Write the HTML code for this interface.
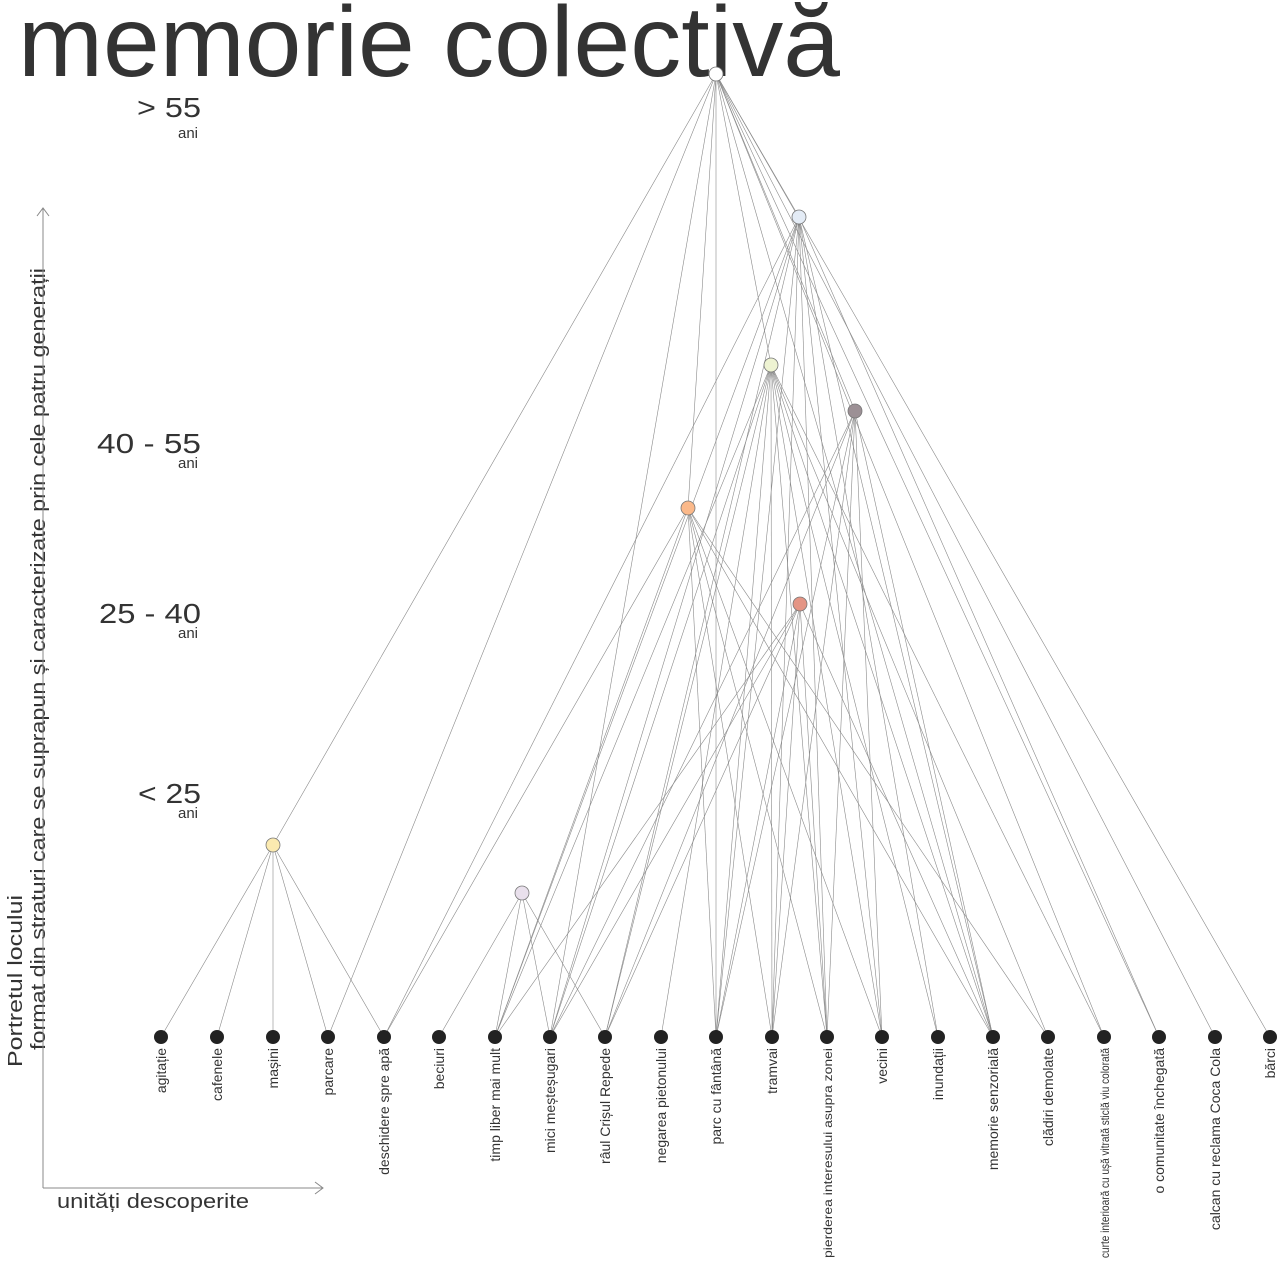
<!DOCTYPE html>
<html><head><meta charset="utf-8"><style>
html,body{margin:0;padding:0;background:#fff;}
svg{display:block;font-family:"Liberation Sans",sans-serif;}
</style></head><body>
<svg width="1280" height="1263" viewBox="0 0 1280 1263" xmlns="http://www.w3.org/2000/svg">
<text x="18" y="76" font-size="100" fill="#333" textLength="822" lengthAdjust="spacingAndGlyphs">memorie colectivă</text>
<g fill="#333">
<text x="137" y="117" font-size="28" textLength="64" lengthAdjust="spacingAndGlyphs">&gt; 55</text>
<text x="178" y="138" font-size="15">ani</text>
<text x="97" y="453" font-size="28" textLength="104" lengthAdjust="spacingAndGlyphs">40 - 55</text>
<text x="178" y="468" font-size="15">ani</text>
<text x="99" y="623" font-size="28" textLength="102" lengthAdjust="spacingAndGlyphs">25 - 40</text>
<text x="178" y="638" font-size="15">ani</text>
<text x="138" y="803" font-size="28" textLength="63" lengthAdjust="spacingAndGlyphs">&lt; 25</text>
<text x="178" y="818" font-size="15">ani</text>
<text transform="translate(22,1067) rotate(-90)" font-size="20" textLength="172" lengthAdjust="spacingAndGlyphs">Portretul locului</text>
<text transform="translate(45,1050) rotate(-90)" font-size="20" textLength="782" lengthAdjust="spacingAndGlyphs">format din straturi care se suprapun și caracterizate prin cele patru generații</text>
<text x="57" y="1208" font-size="20" textLength="192" lengthAdjust="spacingAndGlyphs">unități descoperite</text>
</g>
<g stroke="#888" stroke-width="1" fill="none">
<line x1="43" y1="1188" x2="43" y2="208"/><polyline points="37,216 43,208 49,216"/>
<line x1="43" y1="1188" x2="323" y2="1188"/><polyline points="315,1182 323,1188 315,1194"/>
</g>
<g id="edges" stroke="#8a8a8a" stroke-width="0.6"></g>
<g id="nodes"></g>
<g id="labels" fill="#333" font-size="14"></g>
<script>
var X=[161,217,273,328,384,439,495,550,605,661,716,772,827,882,938,993,1048,1104,1159,1215,1270];
var B=1037;
var L=["agitație","cafenele","mașini","parcare","deschidere spre apă","beciuri","timp liber mai mult","mici meșteșugari","râul Crișul Repede","negarea pietonului","parc cu fântână","tramvai","pierderea interesului asupra zonei","vecini","inundații","memorie senzorială","clădiri demolate","curte interioară cu ușă vitrată sticlă viu colorată","o comunitate închegată","calcan cu reclama Coca Cola","bărci"];
var G={top:[716,74,"#fff"],blue:[799,217,"#e4ecf6"],green:[771,365,"#eef3d2"],gray:[855,411,"#9c9095"],orange:[688,508,"#fbb98a"],salmon:[800,604,"#e49585"],yellow:[273,845,"#fbeab0"],lav:[522,893,"#e9e0ec"]};
var E={top:[3,7,10,15,17,18,19,20],blue:[4,6,7,8,10,11,12,13,14,15,18],green:[6,7,8,9,10,11,12,13,14,15,16,17],gray:[7,8,10,11,12,13,15],orange:[4,6,10,11,12,13,15,16],salmon:[6,7,8,10,11,12,15],yellow:[0,1,2,3,4],lav:[5,6,7,8]};
var ns="http://www.w3.org/2000/svg";
function el(t,a,p){var e=document.createElementNS(ns,t);for(var k in a)e.setAttribute(k,a[k]);p.appendChild(e);return e;}
var eg=document.getElementById("edges"),ng=document.getElementById("nodes"),lg=document.getElementById("labels");
var gg=[["top","yellow"],["top","orange"],["top","green"],["top","gray"],["top","blue"]];
gg.forEach(function(p){el("line",{x1:G[p[0]][0],y1:G[p[0]][1],x2:G[p[1]][0],y2:G[p[1]][1]},eg);});
for(var k in E){E[k].forEach(function(i){el("line",{x1:G[k][0],y1:G[k][1],x2:X[i],y2:B},eg);});}
X.forEach(function(x,i){el("circle",{cx:x,cy:B,r:7,fill:"#222"},ng);
var t=el("text",{transform:"translate("+(x+5)+",1048) rotate(-90)","text-anchor":"end"},lg);t.textContent=L[i];
if(L[i].length>30){t.setAttribute("font-size","12");t.setAttribute("textLength","210");t.setAttribute("lengthAdjust","spacingAndGlyphs");}});
for(var k in G){el("circle",{cx:G[k][0],cy:G[k][1],r:7,fill:G[k][2],stroke:"#777","stroke-width":0.8},ng);}
</script>
</svg>
</body></html>
